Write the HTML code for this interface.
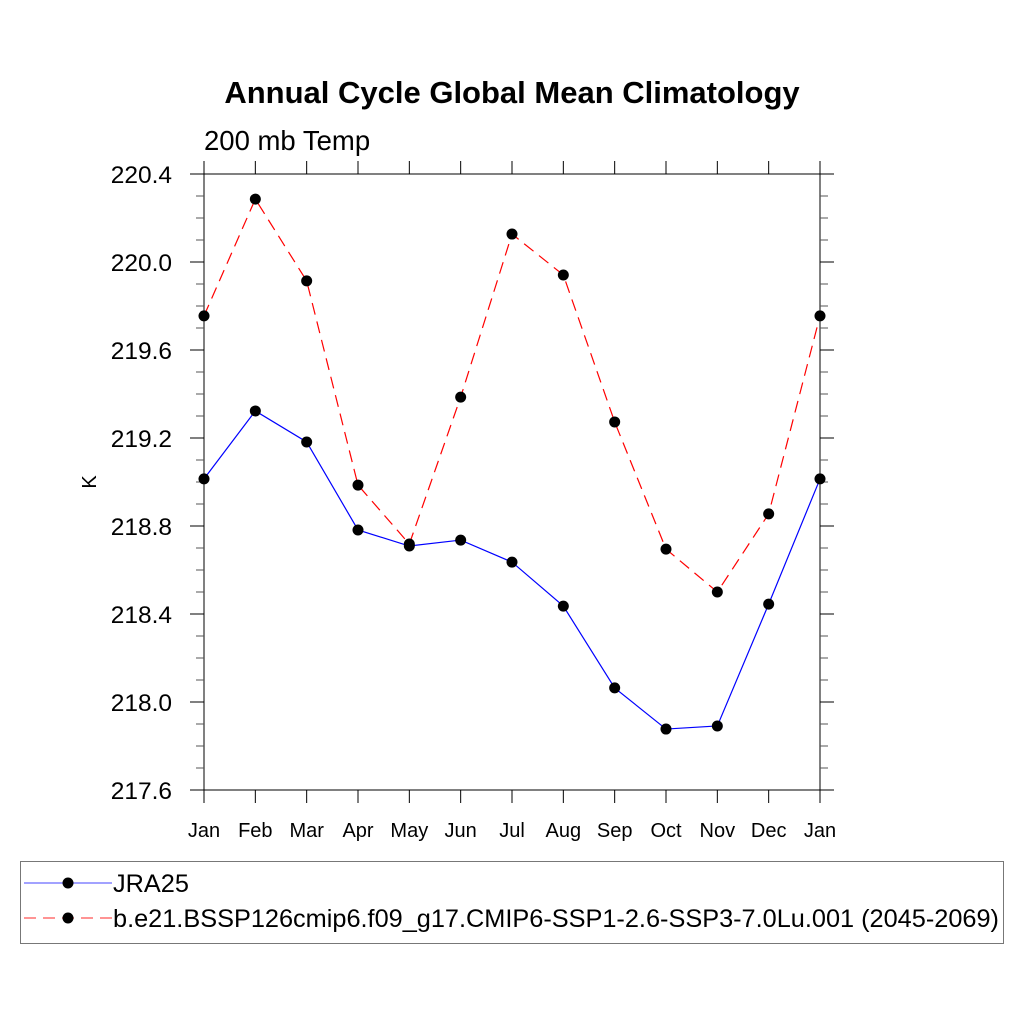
<!DOCTYPE html>
<html><head><meta charset="utf-8"><style>
body{margin:0;background:#fff;}
svg text{font-family:"Liberation Sans",Arial,sans-serif;}
</style></head><body>
<svg id="chart" width="1024" height="1024" xmlns="http://www.w3.org/2000/svg">
<rect width="1024" height="1024" fill="#fff"/>
<text x="512" y="103" text-anchor="middle" font-size="31" font-weight="bold">Annual Cycle Global Mean Climatology</text>
<text x="204" y="150" font-size="27.5">200 mb Temp</text>
<text transform="translate(96,482) rotate(-90)" text-anchor="middle" font-size="20">K</text>
<g id="axes"></g>
<g id="series"></g>
<g>
<rect x="20.5" y="861.5" width="983" height="82" fill="none" stroke="#777" stroke-width="1"/>
<line x1="24" y1="883" x2="112" y2="883" stroke="#6b6bff" stroke-width="1.3"/>
<circle cx="68" cy="883" r="5.5" fill="#000"/>
<text x="113" y="892" font-size="25.3">JRA25</text>
<line x1="24" y1="918" x2="112" y2="918" stroke="#ff5555" stroke-width="1.3" stroke-dasharray="12,7"/>
<circle cx="68" cy="918" r="5.5" fill="#000"/>
<text x="113" y="927" font-size="25.3">b.e21.BSSP126cmip6.f09_g17.CMIP6-SSP1-2.6-SSP3-7.0Lu.001 (2045-2069)</text>
</g>
</svg>
<script>
const months=["Jan","Feb","Mar","Apr","May","Jun","Jul","Aug","Sep","Oct","Nov","Dec","Jan"];
const jra25=[219.014,219.323,219.182,218.782,218.709,218.736,218.636,218.436,218.064,217.877,217.891,218.445,219.014];
const model=[219.755,220.286,219.914,218.986,218.718,219.386,220.127,219.941,219.273,218.695,218.5,218.855,219.755];
const yTicks=[217.6,218.0,218.4,218.8,219.2,219.6,220.0,220.4];
const yMin=217.6,yMax=220.4;
const L=204,R=820,T=174,B=790;
const NS="http://www.w3.org/2000/svg";
function xs(i){return L+i*(R-L)/(months.length-1);}
function ys(v){return B-(v-yMin)/(yMax-yMin)*(B-T);}
function mk(tag,attrs,parent){const e=document.createElementNS(NS,tag);for(const k in attrs)e.setAttribute(k,attrs[k]);parent.appendChild(e);return e;}
const ax=document.getElementById('axes');
const frame=mk('rect',{x:L,y:T,width:R-L,height:B-T,fill:'none',stroke:'#000','stroke-width':1},ax);


months.forEach((m,i)=>{
  const x=xs(i);
  mk('line',{x1:x,y1:B,x2:x,y2:B+13,stroke:'#000'},ax);
  mk('line',{x1:x,y1:T,x2:x,y2:T-13,stroke:'#000'},ax);
  const t=mk('text',{x:x,y:B+47,'text-anchor':'middle','font-size':20},ax);
  t.textContent=m;
  
  
});
for(let v=yMin;v<=yMax+1e-6;v+=0.1){
  const y=ys(v);
  mk('line',{x1:L-8,y1:y,x2:L,y2:y,stroke:'#555'},ax);
  mk('line',{x1:R,y1:y,x2:R+8,y2:y,stroke:'#555'},ax);
}
yTicks.forEach(v=>{
  const y=ys(v);
  mk('line',{x1:L-14,y1:y,x2:L,y2:y,stroke:'#000'},ax);
  mk('line',{x1:R,y1:y,x2:R+14,y2:y,stroke:'#000'},ax);
  const t=mk('text',{x:L-32,y:y+9,'text-anchor':'end','font-size':24.5},ax);
  t.textContent=v.toFixed(1);
  
  
});
const sg=document.getElementById('series');
function drawSeries(vals,color,dash,name){
  const p=mk('polyline',{points:vals.map((v,i)=>xs(i)+','+ys(v)).join(' '),fill:'none',stroke:color,'stroke-width':1.2},sg);
  if(dash)p.setAttribute('stroke-dasharray',dash);
  
  
  vals.forEach((v,i)=>{
    const c=mk('circle',{cx:xs(i),cy:ys(v),r:5.5,fill:'#000'},sg);
    
    
  });
}
drawSeries(jra25,'#0000ff',null,'jra25');
drawSeries(model,'#ff0000','12,7','model');
</script>
</body></html>
